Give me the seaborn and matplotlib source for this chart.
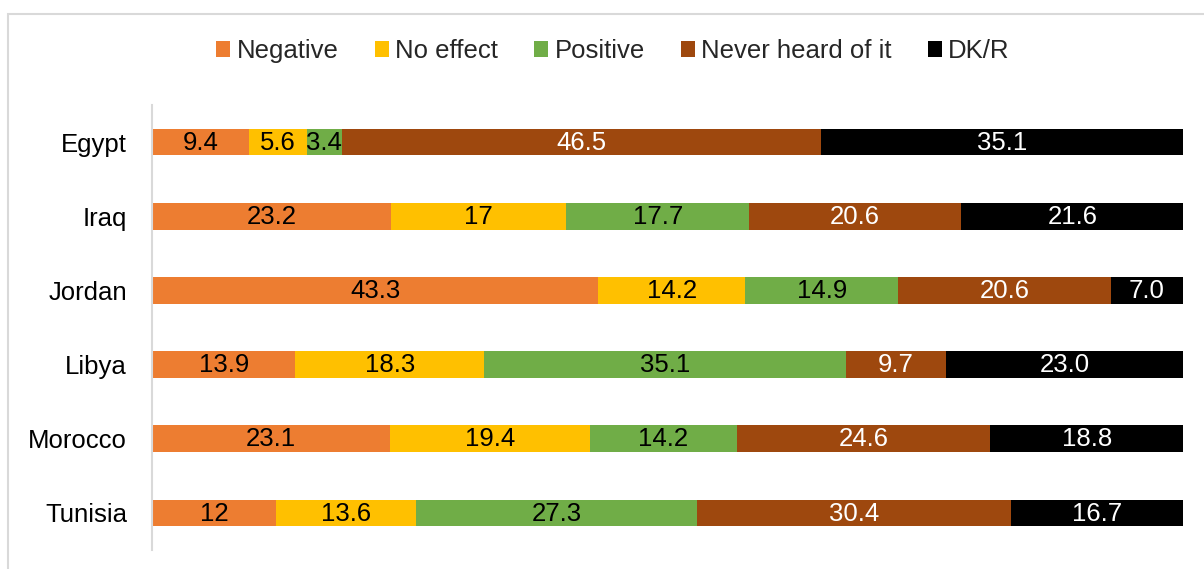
import matplotlib
matplotlib.use("Agg")
import matplotlib.pyplot as plt
import matplotlib.patches as mpatches
import seaborn as sns
import pandas as pd
import numpy as np

countries = ["Egypt", "Iraq", "Jordan", "Libya", "Morocco", "Tunisia"]
categories = ["Negative", "No effect", "Positive", "Never heard of it", "DK/R"]
negative = [9.4, 23.2, 43.3, 13.9, 23.1, 12]
no_effect = [5.6, 17, 14.2, 18.3, 19.4, 13.6]
positive = [3.4, 17.7, 14.9, 35.1, 14.2, 27.3]
never_heard = [46.5, 20.6, 20.6, 9.7, 24.6, 30.4]
dkr = [35.1, 21.6, 7.0, 23.0, 18.8, 16.7]
value_labels = [
    ["9.4", "23.2", "43.3", "13.9", "23.1", "12"],
    ["5.6", "17", "14.2", "18.3", "19.4", "13.6"],
    ["3.4", "17.7", "14.9", "35.1", "14.2", "27.3"],
    ["46.5", "20.6", "20.6", "9.7", "24.6", "30.4"],
    ["35.1", "21.6", "7.0", "23.0", "18.8", "16.7"],
]
colors = ["#ED7D31", "#FFC000", "#70AD47", "#9E480E", "#000000"]
text_colors = ["#000000", "#000000", "#000000", "#FFFFFF", "#FFFFFF"]

series = [negative, no_effect, positive, never_heard, dkr]
vals = np.array(series)
cum = np.cumsum(vals, axis=0)
starts = cum - vals

sns.set_theme(style="white")
plt.rcParams["font.family"] = ["Liberation Sans", "DejaVu Sans"]

FS = 18.5
W, H = 1204, 569
fig = plt.figure(figsize=(W / 100, H / 100), dpi=100)
ax = fig.add_axes([152 / W, 1 - 550 / H, (1183 - 152) / W, (550 - 105) / H])

# stacked bars: draw cumulative totals from the last series to the first
for i in reversed(range(len(categories))):
    df = pd.DataFrame({"country": countries, "value": cum[i]})
    sns.barplot(data=df, x="value", y="country", orient="h", color=colors[i],
                saturation=1, width=0.36, ax=ax, linewidth=0)

for i in range(len(categories)):
    for j, c in enumerate(countries):
        ax.text(starts[i][j] + vals[i][j] / 2, j + 0.01, value_labels[i][j],
                ha="center", va="center", fontsize=FS, color=text_colors[i])

ax.set_xlim(0, 100)
ax.set_ylim(5.5, -0.5)
ax.set_xlabel("")
ax.set_ylabel("")
ax.set_xticks([])
ax.tick_params(axis="y", length=0, pad=18, labelsize=FS, labelcolor="#000000")
for s in ["top", "right", "bottom"]:
    ax.spines[s].set_visible(False)
ax.spines["left"].set_color("#D9D9D9")
ax.spines["left"].set_linewidth(1.5)

handles = [mpatches.Patch(facecolor=colors[i], edgecolor="none", label=categories[i])
           for i in range(len(categories))]
fig.legend(handles=handles, loc="center", bbox_to_anchor=(613 / W, 1 - 51 / H),
           ncol=5, frameon=False, fontsize=FS, handlelength=0.55, handleheight=0.55,
           handletextpad=0.25, columnspacing=1.4)

# outer chart-area border (light gray)
fig.patches.append(mpatches.Rectangle((8 / W, -0.1), 1.1, 1 - 14 / H + 0.1,
                                      transform=fig.transFigure, fill=False,
                                      edgecolor="#D9D9D9", linewidth=1.5))

fig.savefig("out.png", dpi=100)
